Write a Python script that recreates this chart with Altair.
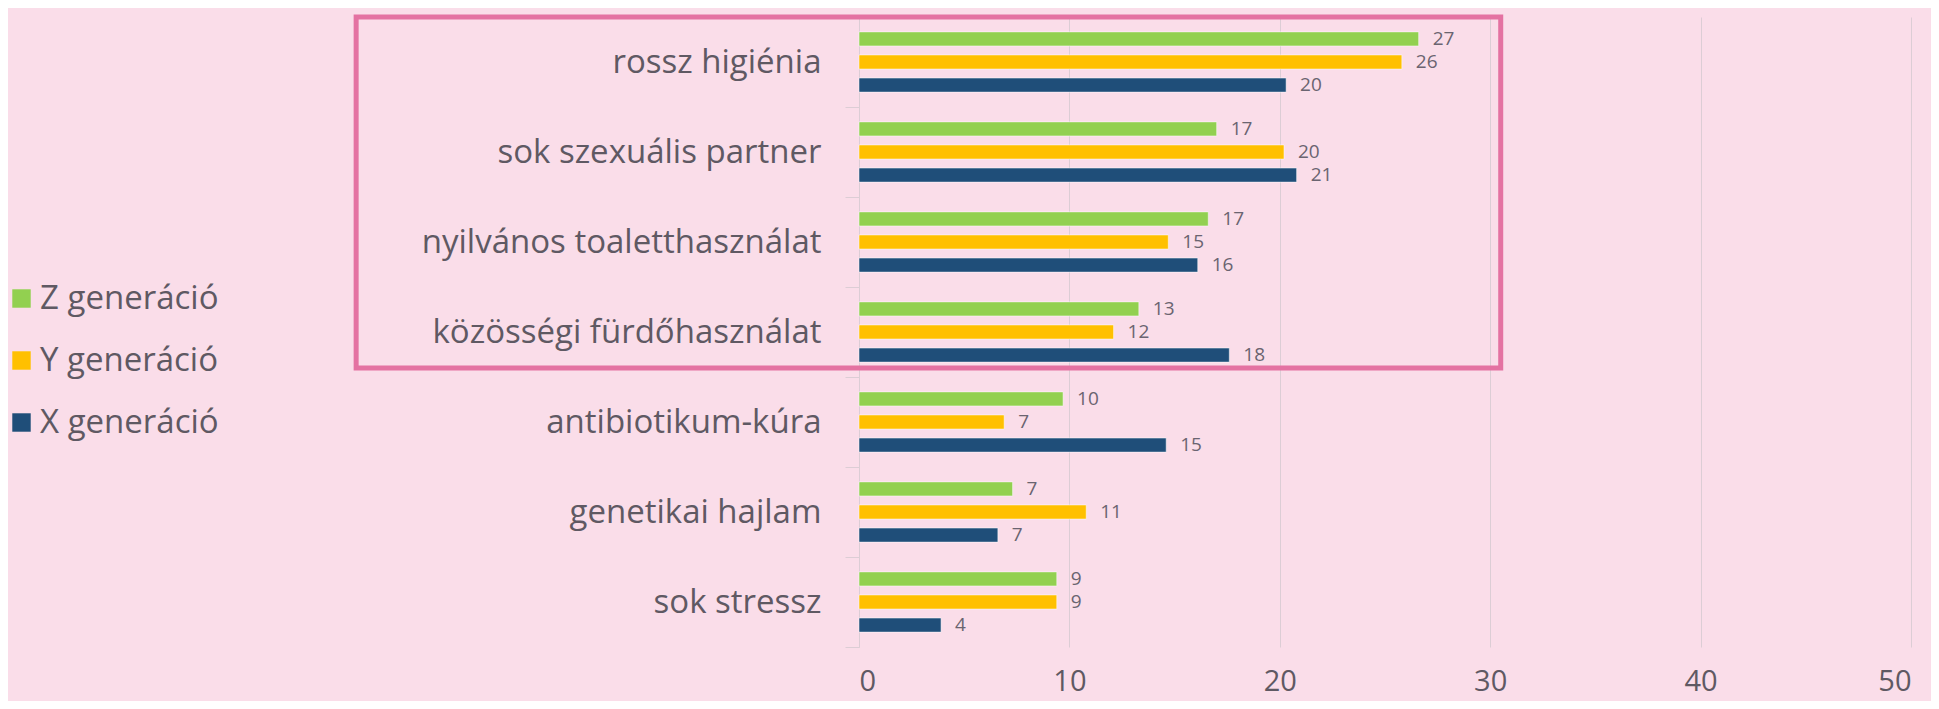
import altair as alt
import pandas as pd

categories = [
    "rossz higiénia",
    "sok szexuális partner",
    "nyilvános toaletthasználat",
    "közösségi fürdőhasználat",
    "antibiotikum-kúra",
    "genetikai hajlam",
    "sok stressz",
]
series = ["Z generáció", "Y generáció", "X generáció"]
colors = ["#92D050", "#FFC000", "#1F4E79"]

z_values = [26.6, 17.0, 16.6, 13.3, 9.7, 7.3, 9.4]
y_values = [25.8, 20.2, 14.7, 12.1, 6.9, 10.8, 9.4]
x_values = [20.3, 20.8, 16.1, 17.6, 14.6, 6.6, 3.9]
z_labels = ["27", "17", "17", "13", "10", "7", "9"]
y_labels = ["26", "20", "15", "12", "7", "11", "9"]
x_labels = ["20", "21", "16", "18", "15", "7", "4"]
x_ticks = [0, 10, 20, 30, 40, 50]

# highlighted block (first four categories)
box_first = categories[0]
box_last = categories[3]
box_x_left = -23.9
box_x_right = 30.5

rows = []
for s, vals, labs in zip(series, [z_values, y_values, x_values], [z_labels, y_labels, x_labels]):
    for c, v, l in zip(categories, vals, labs):
        rows.append({"category": c, "series": s, "value": v, "label": l})
df = pd.DataFrame(rows)

box_df = pd.DataFrame({
    "y_top": [box_first], "y_bottom": [box_last],
    "x_left": [box_x_left], "x_right": [box_x_right],
})

FONT = "Open Sans"
TEXT = "#5f5963"
GRID = "#dccdd5"

y_scale = alt.Scale(domain=categories, paddingInner=0, paddingOuter=0)
x_scale = alt.Scale(domain=[0, 50], nice=False)

base = alt.Chart(df).encode(
    y=alt.Y(
        "category:N",
        scale=y_scale,
        axis=alt.Axis(
            title=None, labelFont=FONT, labelFontSize=33, labelColor=TEXT,
            labelPadding=24, tickSize=14, tickColor=GRID, domainColor=GRID,
            tickBand="extent", grid=False, labelLimit=700,
        ),
    ),
    yOffset=alt.YOffset(
        "series:N", scale=alt.Scale(domain=series, paddingInner=0.39, paddingOuter=0.645)
    ),
)

bars = base.mark_bar(stroke="#ffffff", strokeOpacity=0.5, strokeWidth=1).encode(
    x=alt.X(
        "value:Q",
        scale=x_scale,
        axis=alt.Axis(
            title=None, values=x_ticks, grid=True, gridColor=GRID, domain=False,
            ticks=False, labelFont=FONT, labelFontSize=29, labelColor=TEXT,
            labelPadding=20,
        ),
    ),
    color=alt.Color(
        "series:N",
        scale=alt.Scale(domain=series, range=colors),
        legend=alt.Legend(
            title=None, orient="none", legendX=-854, legendY=265,
            symbolType="square", symbolSize=340, symbolStrokeWidth=0,
            labelFont=FONT, labelFontSize=33, labelColor=TEXT,
            labelOffset=2, rowPadding=28, labelLimit=500,
        ),
    ),
)

labels = base.mark_text(
    align="left", baseline="middle", dx=14, font=FONT, fontSize=19, color="#6a6470"
).encode(
    x=alt.X("value:Q", scale=x_scale),
    text="label:N",
)

box = alt.Chart(box_df).mark_rect(
    filled=False, stroke="#E472A2", strokeWidth=5
).encode(
    x=alt.X("x_left:Q", scale=x_scale, title=None),
    x2="x_right:Q",
    y=alt.Y("y_top:N", scale=y_scale, bandPosition=0, title=None),
    y2=alt.Y2("y_bottom:N", bandPosition=0.9),
)

chart = alt.layer(bars, labels, box).properties(
    width=1052,
    height=630,
    padding={"left": 851, "top": 9, "right": 20, "bottom": 54},
    autosize=alt.AutoSizeParams(type="none"),
    background="#FADDE9",
).configure_view(stroke=None)

chart.save("out.html", embed_options={"renderer": "svg", "actions": False})
